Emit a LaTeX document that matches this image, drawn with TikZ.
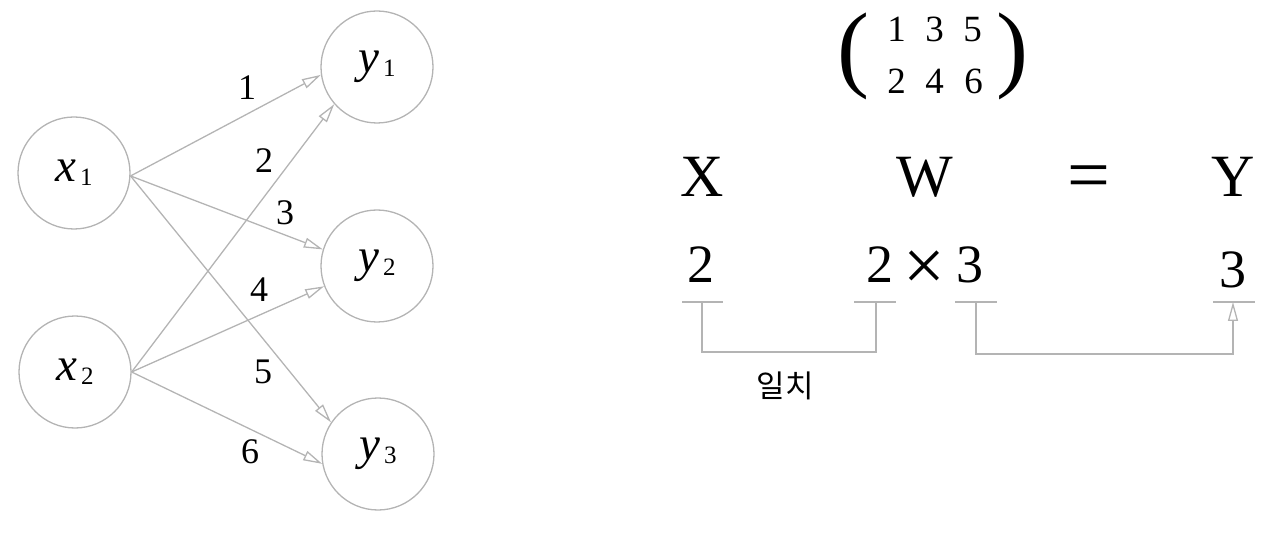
\documentclass[tikz,border=0pt]{standalone}
\usepackage{fontspec}
\setmainfont{Liberation Serif}
\newfontfamily\krfont{Noto Sans CJK KR}
\usetikzlibrary{arrows.meta}
\definecolor{linegray}{RGB}{180,180,180}
\newcommand{\fs}[1]{\fontsize{#1}{#1}\selectfont}
\tikzset{
  neuron/.style={circle, draw=linegray, line width=1.3pt, minimum size=112pt, inner sep=0pt, font=\fs{47}},
  conn/.style={draw=linegray, line width=1.3pt, -{Triangle[open, length=19pt, width=10pt]}},
  brk/.style={draw=linegray, line width=1.3pt},
  wlabel/.style={inner sep=0pt, font=\fs{36}},
  big/.style={inner sep=0pt, anchor=base, font=\fs{60}},
  dim/.style={inner sep=0pt, anchor=base, font=\fs{54}},
  mat/.style={inner sep=0pt, anchor=base, font=\fs{37}},
  par/.style={inner sep=0pt, font=\fs{96}}
}
\newcommand{\sub}[1]{\hspace{4pt}\raisebox{-4pt}{\fs{25}#1}}
\begin{document}
\begin{tikzpicture}[x=1pt, y=-1pt]
\useasboundingbox (0,0) rectangle (1270,540);
% neurons
\node[neuron] (x1) at (74,173) {\textit{x}\sub{1}};
\node[neuron] (x2) at (75,372) {\textit{x}\sub{2}};
\node[neuron] (y1) at (377,67) {\textit{y}\sub{1}};
\node[neuron] (y2) at (377,266) {\textit{y}\sub{2}};
\node[neuron] (y3) at (378,454) {\textit{y}\sub{3}};
% connections
\draw[conn] (x1.-3) -- (y1.188);
\draw[conn] (x1.-3) -- (y2.163);
\draw[conn] (x1.-3) -- (y3.146);
\draw[conn] (x2.east) -- (y1.221);
\draw[conn] (x2.east) -- (y2.201);
\draw[conn] (x2.east) -- (y3.190);
% weights
\node[wlabel] (w1) at (247,88) {1};
\node[wlabel] (w2) at (264,161) {2};
\node[wlabel] (w3) at (285,213) {3};
\node[wlabel] (w4) at (259,290) {4};
\node[wlabel] (w5) at (263,372) {5};
\node[wlabel] (w6) at (250,452) {6};
% matrix
\node[par] (lp) at (853.5,56) {(};
\node[par] (rp) at (1012.5,56) {)};
\node[mat] (m11) at (896.5,42) {1};
\node[mat] (m12) at (934.5,42) {3};
\node[mat] (m13) at (972.5,42) {5};
\node[mat] (m21) at (896.5,94) {2};
\node[mat] (m22) at (934.5,94) {4};
\node[mat] (m23) at (973.5,94) {6};
% X W = Y
\node[big] (X) at (702,197) {X};
\node[big] (W) at (925,197) {W};
\node[inner sep=0pt, font=\fs{76}] (eq) at (1089,183) {=};
\node[big] (Y) at (1233,197) {Y};
% dimensions
\node[dim] (dx) at (700.5,283) {2};
\node[dim] (dw1) at (879.5,283) {2};
\node[inner sep=0pt, font=\fs{74}] (times) at (924,270.5) {×};
\node[dim] (dw2) at (970,283) {3};
\node[dim] (dy) at (1232.5,288) {3};
% bracket anchors
\coordinate (a1) at (702,302);
\coordinate (a2) at (876,302);
\coordinate (b1) at (976,302);
\coordinate (b2) at (1233,302);
\draw[brk] (682,302) -- (723,302);
\draw[brk] (854,302) -- (896,302);
\draw[brk] (955,302) -- (997,302);
\draw[brk] (1213,302) -- (1255,302);
\draw[brk] (a1) -- (702,352) -- (876,352) -- (a2);
\draw[conn] (b1) -- (976,354) -- (1233,354) -- (b2);
\node[inner sep=0pt, font=\krfont\fs{31}] (match) at (785,386) {일치};
\end{tikzpicture}
\end{document}
